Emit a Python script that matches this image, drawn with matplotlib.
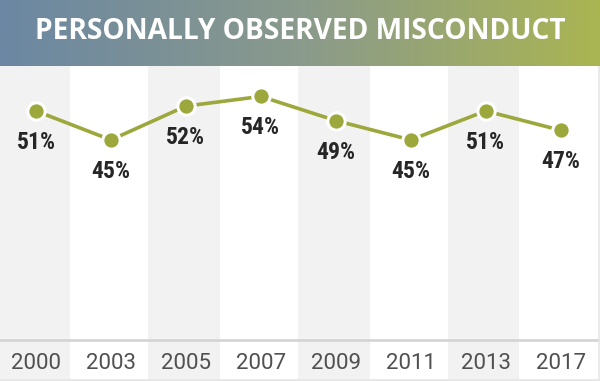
import numpy as np
import matplotlib
matplotlib.use("Agg")
import matplotlib.pyplot as plt
from matplotlib.colors import LinearSegmentedColormap
import matplotlib.transforms as mtransforms
from matplotlib import font_manager

years = ["2000", "2003", "2005", "2007", "2009", "2011", "2013", "2017"]
values = [51, 45, 52, 54, 49, 45, 51, 47]
title = "PERSONALLY OBSERVED MISCONDUCT"


def first_font(cands):
    for c in cands:
        try:
            font_manager.findfont(font_manager.FontProperties(family=c, weight="bold"),
                                  fallback_to_default=False)
            return c
        except Exception:
            continue
    return "DejaVu Sans"


label_font = first_font(["Liberation Sans Narrow", "DejaVu Sans Condensed",
                         "Roboto Condensed", "Arial Narrow", "Roboto"])
title_font = first_font(["Open Sans", "Roboto"])

W, H = 600, 381
DPI = 100
fig = plt.figure(figsize=(W / DPI, H / DPI), dpi=DPI)
fig.patch.set_facecolor("white")

title_h = 66
tax = fig.add_axes([0, 1 - title_h / H, 1, title_h / H])
cmap = LinearSegmentedColormap.from_list("g", ["#6b87a3", "#8a9a8c", "#aab552"])
grad = np.linspace(0, 1, 512).reshape(1, -1)
tax.imshow(grad, aspect="auto", cmap=cmap, extent=[0, 1, 0, 1])
tax.set_axis_off()
t = fig.text(0.5, 1 - 39 / H, title, color="white", fontsize=19,
             fontweight="bold", family=[title_font, "DejaVu Sans"],
             ha="center", va="baseline")
r = fig.canvas.get_renderer()
w = t.get_window_extent(renderer=r).width
t.set_fontsize(19 * 530 / w)

ax = fig.add_axes([0, 0, 1, (H - title_h) / H])
ax.set_facecolor("white")
x = np.arange(len(years))
ax.set_xlim(-0.48, 7.525)
ax.set_ylim(-4.9, 60.3)
ax.set_axis_off()

for i in range(0, len(years), 2):
    ax.axvspan(i - 0.5, i + 0.45, color="#f2f2f2", zorder=0, lw=0)

ax.plot(x, values, color="#9ca73c", lw=2.6, zorder=2)
ax.plot(x, values, linestyle="none", marker="o", markersize=12.5,
        markerfacecolor="#9ca73c", markeredgecolor="white",
        markeredgewidth=2.2, zorder=3)

label_size = 17 if label_font != "Roboto" else 15
for xi, v in zip(x, values):
    ax.annotate(f"{v}%", (xi, v), xytext=(0, -38 * 72 / DPI),
                textcoords="offset points", ha="center", va="baseline",
                fontsize=label_size, fontweight="bold", color="#262626",
                family=[label_font, "DejaVu Sans"], zorder=4)

trans = mtransforms.blended_transform_factory(ax.transData, ax.transAxes)
panel_h = H - title_h
ly = (H - 340) / panel_h
ax.plot([0, 1], [ly, ly], transform=ax.transAxes, color="#d2d2d2", lw=1.8, zorder=1)
for xi, yr in zip(x, years):
    ax.text(xi, (H - 369) / panel_h, yr, transform=trans, ha="center",
            va="baseline", fontsize=16, color="#505050",
            family=["Roboto", "DejaVu Sans"])

ax.plot([0, 1], [0.004, 0.004], transform=ax.transAxes, color="#e6e6e6", lw=2, zorder=5)
ax.plot([0.9975, 0.9975], [0, 1], transform=ax.transAxes, color="#e6e6e6", lw=1.2, zorder=5)

fig.savefig("out.png", dpi=DPI)
